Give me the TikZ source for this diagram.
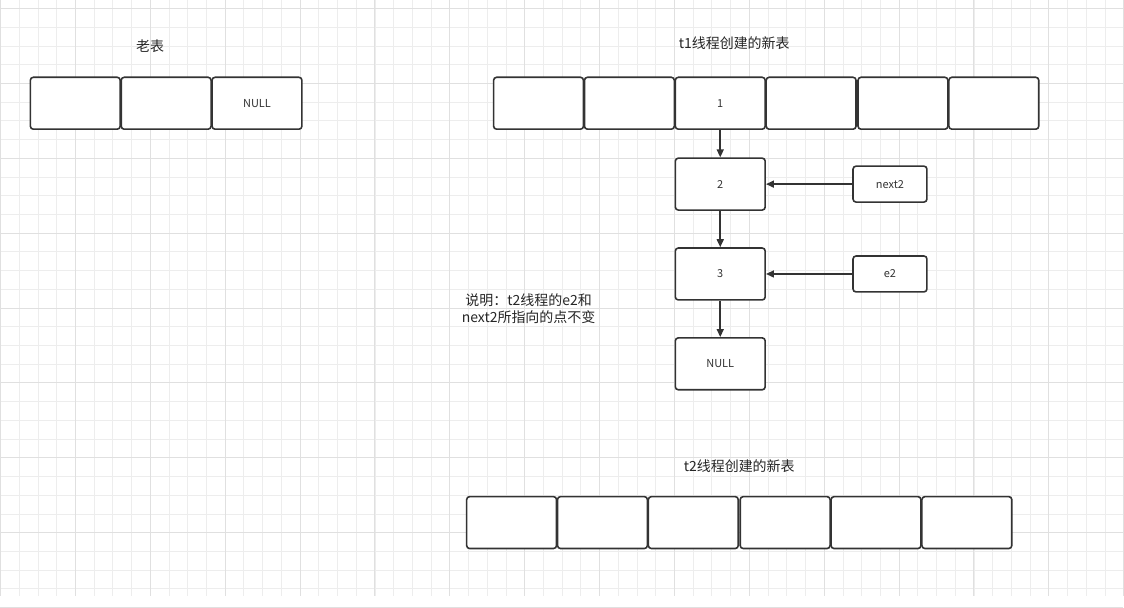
\documentclass[tikz,border=0pt]{standalone}
\usepackage{fontspec}
\setmainfont{Noto Sans CJK SC}
\usetikzlibrary{arrows.meta}
\begin{document}
\begin{tikzpicture}[x=1pt,y=-1pt,
 cell/.style={draw=black!80,line width=1.6pt,rounded corners=3pt,fill=white,minimum width=90pt,minimum height=52pt,inner sep=0pt,font=\fontsize{11}{13}\selectfont,text=black!80},
 ptr/.style={cell,minimum width=74pt,minimum height=36pt},
 arr/.style={-{Triangle[length=8pt,width=7pt]},line width=1.6pt,draw=black!80},
 title/.style={font=\fontsize{14}{17}\selectfont,text=black!85}]
\fill[white] (0,0) rectangle (1124,597);
\foreach \i in {0,...,60} {\draw[black!7,line width=0.6pt] ({\i*18.75},0) -- ({\i*18.75},597);}
\foreach \i in {0,...,32} {\draw[black!7,line width=0.6pt] (0,{8+\i*18.75}) -- (1124,{8+\i*18.75});}
\foreach \i in {0,...,15} {\draw[black!12,line width=0.8pt] ({\i*75},0) -- ({\i*75},597);}
\foreach \i in {0,...,8} {\draw[black!12,line width=0.8pt] (0,{8+\i*75}) -- (1124,{8+\i*75});}
\useasboundingbox (0,0) rectangle (1124,597);
\node[title] (old) at (150,46) {老表};
\node[cell] (o1) at (75,103) {};
\node[cell] (o2) at (166,103) {};
\node[cell] (o3) at (257,103) {NULL};
\node[title] (t1) at (735,43) {t1线程创建的新表};
\node[cell] (a1) at (539,103) {};
\node[cell] (a2) at (630,103) {};
\node[cell] (a3) at (721,103) {1};
\node[cell] (a4) at (812,103) {};
\node[cell] (a5) at (904,103) {};
\node[cell] (a6) at (995,103) {};
\node[cell] (n2) at (721,184) {2};
\node[cell] (n3) at (721,274) {3};
\node[cell] (nn) at (721,364) {NULL};
\node[ptr] (next2) at (891,184) {next2};
\node[ptr] (e2) at (891,274) {e2};
\draw[arr] (a3) -- (n2);
\draw[arr] (n2) -- (n3);
\draw[arr] (n3) -- (nn);
\draw[arr] (next2) -- (n2);
\draw[arr] (e2) -- (n3);
\node[title,align=center] (note) at (529,309) {说明：t2线程的e2和\\next2所指向的点不变};
\node[title] (t2) at (740,466) {t2线程创建的新表};
\node[cell] (b1) at (512,523) {};
\node[cell] (b2) at (603,523) {};
\node[cell] (b3) at (694,523) {};
\node[cell] (b4) at (786,523) {};
\node[cell] (b5) at (877,523) {};
\node[cell] (b6) at (968,523) {};
\end{tikzpicture}
\end{document}
